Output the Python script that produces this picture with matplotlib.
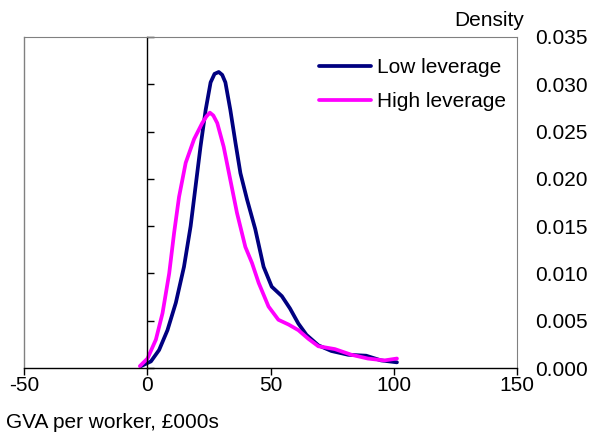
import matplotlib
matplotlib.use("Agg")
import matplotlib.pyplot as plt

plt.rcParams['font.family'] = ['Liberation Sans', 'DejaVu Sans']

low_x = [-2.5, 1.5, 4.8, 8.2, 11.6, 14.9, 17.6, 19.6, 21.6, 23.7, 25.7, 27.3, 29.0, 30.4, 31.7, 33.7, 35.8, 37.8, 40.5,
         43.8, 47.2, 50.5, 54.6, 57.9, 61.3, 64.6, 69.4, 74.7, 81.5, 88.8, 94.9, 101.3]
low_y = [0.0002, 0.0007, 0.0019, 0.0040, 0.0069, 0.0107, 0.0150, 0.0192, 0.0234, 0.0273, 0.0302, 0.0311, 0.0313,
         0.0310, 0.0302, 0.0273, 0.0238, 0.0206, 0.0178, 0.0147, 0.0107, 0.0086, 0.0076, 0.0063, 0.0047, 0.0035,
         0.0024, 0.0018, 0.0014, 0.0013, 0.0008, 0.0006]

high_x = [-3.0, 0.1, 3.5, 6.2, 8.9, 10.9, 12.9, 15.6, 19.0, 22.3, 24.0, 25.4, 26.8, 28.4, 31.0, 33.7, 36.4, 39.8,
          42.5, 45.2, 49.2, 53.2, 57.3, 61.3, 65.3, 69.4, 76.1, 82.8, 89.5, 96.2, 101.3]
high_y = [0.0002, 0.0010, 0.0030, 0.0058, 0.0100, 0.0143, 0.0181, 0.0217, 0.0242, 0.0259, 0.0266, 0.0270, 0.0267,
          0.0259, 0.0234, 0.0199, 0.0164, 0.0128, 0.0111, 0.0090, 0.0065, 0.0051, 0.0046, 0.0040, 0.0031, 0.0023,
          0.0020, 0.0014, 0.0010, 0.0008, 0.0010]

x_ticks = [-50, 0, 50, 100, 150]
y_ticks = [0.000, 0.005, 0.010, 0.015, 0.020, 0.025, 0.030, 0.035]
y_labels = ["0.000", "0.005", "0.010", "0.015", "0.020", "0.025", "0.030", "0.035"]

FS = 15

fig = plt.figure(figsize=(5.9, 4.33), dpi=100)
ax = fig.add_axes([24/590, 1-368/433, 493/590, 331/433])

ax.plot(low_x, low_y, color='#000080', lw=2.7, label='Low leverage', solid_joinstyle='round', solid_capstyle='round')
ax.plot(high_x, high_y, color='#FF00FF', lw=2.7, label='High leverage', solid_joinstyle='round', solid_capstyle='round')

ax.set_xlim(-50, 150)
ax.set_ylim(0, 0.035)

# spines
ax.spines['left'].set_position(('data', 0))
ax.spines['left'].set_color('black')
ax.spines['left'].set_linewidth(1.0)
ax.spines['bottom'].set_color('black')
ax.spines['bottom'].set_linewidth(1.0)
ax.spines['top'].set_color('#808080')
ax.spines['right'].set_color('#808080')
ax.plot([0, 0], [0, 1], transform=ax.transAxes, color='#808080', lw=1.0, clip_on=False)

ax.set_xticks(x_ticks)
ax.set_xticklabels([str(v) for v in x_ticks], fontsize=FS)
ax.tick_params(axis='x', direction='out', length=5, width=1, pad=1)

ax.set_yticks(y_ticks)
ax.tick_params(axis='y', which='both', left=True, right=False, labelleft=False, labelright=True,
               direction='in', length=5, width=1, pad=13, labelsize=FS)
ax.set_yticklabels(y_labels)

fig.text(524/590, 1-21/433, 'Density', ha='right', va='center', fontsize=FS)
fig.text(6/590, 1-423/433, 'GVA per worker, £000s', ha='left', va='center', fontsize=FS)

ax.legend(loc='upper left', bbox_to_anchor=((319-24)/493, 0.937), frameon=False,
          fontsize=FS, borderpad=0, borderaxespad=0, handlelength=2.5,
          handletextpad=0.3, labelspacing=0.72)

fig.savefig('out.png', dpi=100)
